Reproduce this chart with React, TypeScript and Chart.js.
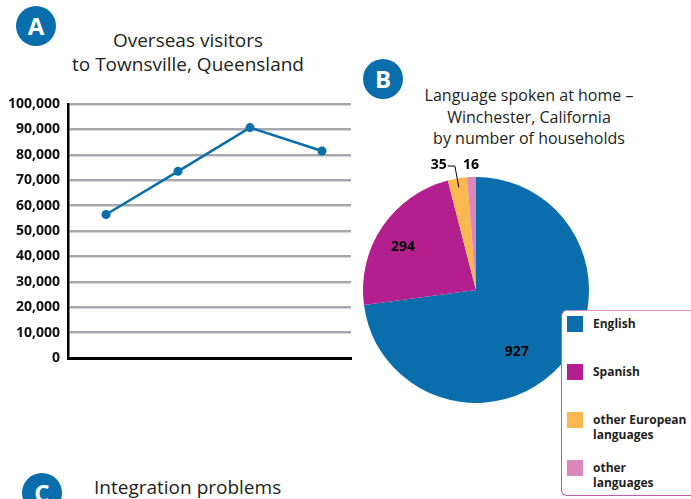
import React, { useEffect, useRef } from 'react';
import { Chart, registerables } from 'chart.js';

Chart.register(...registerables);

// ---------- Data ----------
const visitorPeriods = ['Period 1', 'Period 2', 'Period 3', 'Period 4'];
const visitorValues = [56500, 73500, 90700, 81500];
const visitorTickStep = 10000;
const visitorMax = 100000;

const languageLabels = ['English', 'Spanish', 'other European languages', 'other languages'];
const languageLegendLines = [['English'], ['Spanish'], ['other European', 'languages'], ['other', 'languages']];
const languageValues = [927, 294, 35, 16];
const languageColors = ['#0a6eac', '#b31f8e', '#fbb850', '#dc86bc'];

const chartATitle = ['Overseas visitors', 'to Townsville, Queensland'];
const chartBTitle = ['Language spoken at home –', 'Winchester, California', 'by number of households'];
const chartCTitle = 'Integration problems';

// ---------- Styles ----------
const FONT = '"Open Sans", "Noto Sans", sans-serif';
const BLUE = '#0a6eac';
const INK = '#231f20';

// label placement inside slices: fraction along the arc, fraction of radius
const insideLabelSpots: Array<[number, number] | null> = [[0.56, 0.66], [0.46, 0.75], null, null];

function zeroPadding(scale: any) {
  scale.paddingTop = 0;
  scale.paddingBottom = 0;
  scale.paddingLeft = 0;
  scale.paddingRight = 0;
}

const pieLabelsPlugin = {
  id: 'pieLabels',
  afterDatasetsDraw(chart: any) {
    const ctx = chart.ctx;
    const meta = chart.getDatasetMeta(0);
    const values = chart.data.datasets[0].data as number[];
    ctx.save();
    ctx.fillStyle = '#000';
    ctx.font = `bold 14px ${FONT}`;
    ctx.textBaseline = 'middle';
    meta.data.forEach((arc: any, i: number) => {
      const p = arc.getProps(['x', 'y', 'startAngle', 'endAngle', 'outerRadius'], true);
      const spot = insideLabelSpots[i];
      const txt = String(values[i]);
      const mid = (p.startAngle + p.endAngle) / 2;
      const labelY = p.y - p.outerRadius - 12;
      if (spot) {
        const a = p.startAngle + (p.endAngle - p.startAngle) * spot[0];
        const r = p.outerRadius * spot[1];
        ctx.textAlign = 'center';
        ctx.fillText(txt, p.x + Math.cos(a) * r, p.y + Math.sin(a) * r);
      } else if (i === 2) {
        const sx = p.x + Math.cos(mid) * p.outerRadius * 0.92;
        const sy = p.y + Math.sin(mid) * p.outerRadius * 0.92;
        const cx = sx - 4;
        ctx.strokeStyle = '#000';
        ctx.lineWidth = 1;
        ctx.beginPath();
        ctx.moveTo(sx, sy);
        ctx.lineTo(cx, labelY + 1);
        ctx.lineTo(cx - 7, labelY + 1);
        ctx.stroke();
        ctx.textAlign = 'right';
        ctx.fillText(txt, cx - 8, labelY);
      } else {
        const rr = (p.outerRadius + 12) / Math.max(0.2, -Math.sin(mid));
        ctx.textAlign = 'center';
        ctx.fillText(txt, p.x + Math.cos(mid) * rr, labelY);
      }
    });
    ctx.restore();
  },
};

function LineChartA() {
  const ref = useRef<HTMLCanvasElement>(null);
  useEffect(() => {
    const chart = new Chart(ref.current!, {
      type: 'line',
      data: {
        labels: visitorPeriods,
        datasets: [
          {
            label: 'Overseas visitors',
            data: visitorValues.map((v, i) => ({ x: i, y: v })),
            borderColor: BLUE,
            backgroundColor: BLUE,
            borderWidth: 2.5,
            pointRadius: 4.5,
            pointBorderWidth: 0,
            pointBackgroundColor: BLUE,
            tension: 0,
            clip: false as any,
          },
        ],
      },
      options: {
        animation: false,
        responsive: false,
        devicePixelRatio: 1,
        layout: { padding: { top: 14, right: 9, bottom: 22, left: 0 } },
        plugins: { legend: { display: false }, tooltip: { enabled: false }, title: { display: false } },
        scales: {
          x: {
            type: 'linear',
            min: -0.528,
            max: 3.403,
            ticks: { display: false },
            grid: { display: false, drawTicks: false },
            border: { display: true, color: '#000', width: 3 },
            afterFit: (s: any) => {
              s.height = 0;
              zeroPadding(s);
            },
          },
          y: {
            min: 0,
            max: visitorMax,
            ticks: {
              stepSize: visitorTickStep,
              padding: 8,
              color: '#111',
              font: { family: FONT, size: 14, weight: 'bold' },
              callback: (v: any) => Number(v).toLocaleString('en-US'),
            },
            grid: { color: '#a7a9ac', lineWidth: 2.5, drawTicks: false },
            border: { display: true, color: '#000', width: 2.5 },
            afterFit: (s: any) => {
              s.width = 68;
              zeroPadding(s);
            },
          },
        },
      } as any,
    });
    return () => chart.destroy();
  }, []);
  return <canvas ref={ref} width={360} height={290} style={{ position: 'absolute', left: 0, top: 90 }} />;
}

function PieChartB() {
  const ref = useRef<HTMLCanvasElement>(null);
  useEffect(() => {
    const chart = new Chart(ref.current!, {
      type: 'pie',
      data: {
        labels: languageLabels,
        datasets: [
          {
            data: languageValues,
            backgroundColor: languageColors,
            borderWidth: 0,
          },
        ],
      },
      options: {
        animation: false,
        responsive: false,
        devicePixelRatio: 1,
        layout: { padding: { top: 27, bottom: 27, left: 23, right: 23 } },
        plugins: { legend: { display: false }, tooltip: { enabled: false } },
      } as any,
      plugins: [pieLabelsPlugin],
    });
    return () => chart.destroy();
  }, []);
  return <canvas ref={ref} width={272} height={280} style={{ position: 'absolute', left: 340, top: 150 }} />;
}

function Badge({ letter, left, top }: { letter: string; left: number; top: number }) {
  return (
    <div
      style={{
        position: 'absolute',
        left,
        top,
        width: 40,
        height: 40,
        borderRadius: '50%',
        background: BLUE,
        color: '#fff',
        fontFamily: FONT,
        fontWeight: 700,
        fontSize: 24,
        lineHeight: '40px',
        textAlign: 'center',
      }}
    >
      {letter}
    </div>
  );
}

function Legend() {
  return (
    <div
      style={{
        position: 'absolute',
        left: 561,
        top: 310,
        width: 150,
        height: 186,
        background: '#fff',
        border: '1.5px solid #c25aa8',
        borderTopColor: '#dc8ec4',
        borderRadius: 6,
        boxSizing: 'border-box',
        zIndex: 2,
      }}
    >
      {languageLabels.map((lab, i) => (
        <div
          key={lab}
          style={{ position: 'absolute', left: 5, top: 5 + i * 48, display: 'flex', alignItems: 'flex-start' }}
        >
          <div style={{ width: 16, height: 16, background: languageColors[i], flex: 'none' }} />
          <div
            style={{
              marginLeft: 10,
              marginTop: 0,
              fontFamily: FONT,
              fontWeight: 700,
              fontSize: 12,
              lineHeight: '15px',
              color: INK,
            }}
          >
            {languageLegendLines[i].map((l) => (
              <div key={l}>{l}</div>
            ))}
          </div>
        </div>
      ))}
    </div>
  );
}

export default function App() {
  return (
    <div
      style={{
        position: 'fixed',
        left: 0,
        top: 0,
        width: 691,
        height: 499,
        overflow: 'hidden',
        background: '#fff',
        fontFamily: FONT,
        color: INK,
      }}
    >
      <Badge letter="A" left={16} top={6} />
      <div
        style={{
          position: 'absolute',
          left: 38,
          width: 300,
          top: 28,
          textAlign: 'center',
          fontSize: 19,
          lineHeight: '24.3px',
        }}
      >
        {chartATitle.map((l) => (
          <div key={l}>{l}</div>
        ))}
      </div>
      <LineChartA />

      <Badge letter="B" left={363} top={59} />
      <div
        style={{
          position: 'absolute',
          left: 409,
          width: 240,
          top: 85,
          textAlign: 'center',
          fontSize: 16,
          lineHeight: '21.5px',
        }}
      >
        {chartBTitle.map((l) => (
          <div key={l}>{l}</div>
        ))}
      </div>
      <PieChartB />
      <Legend />

      <Badge letter="C" left={22} top={473} />
      <div style={{ position: 'absolute', left: 94, top: 475, fontSize: 19, lineHeight: '24px' }}>{chartCTitle}</div>
    </div>
  );
}
